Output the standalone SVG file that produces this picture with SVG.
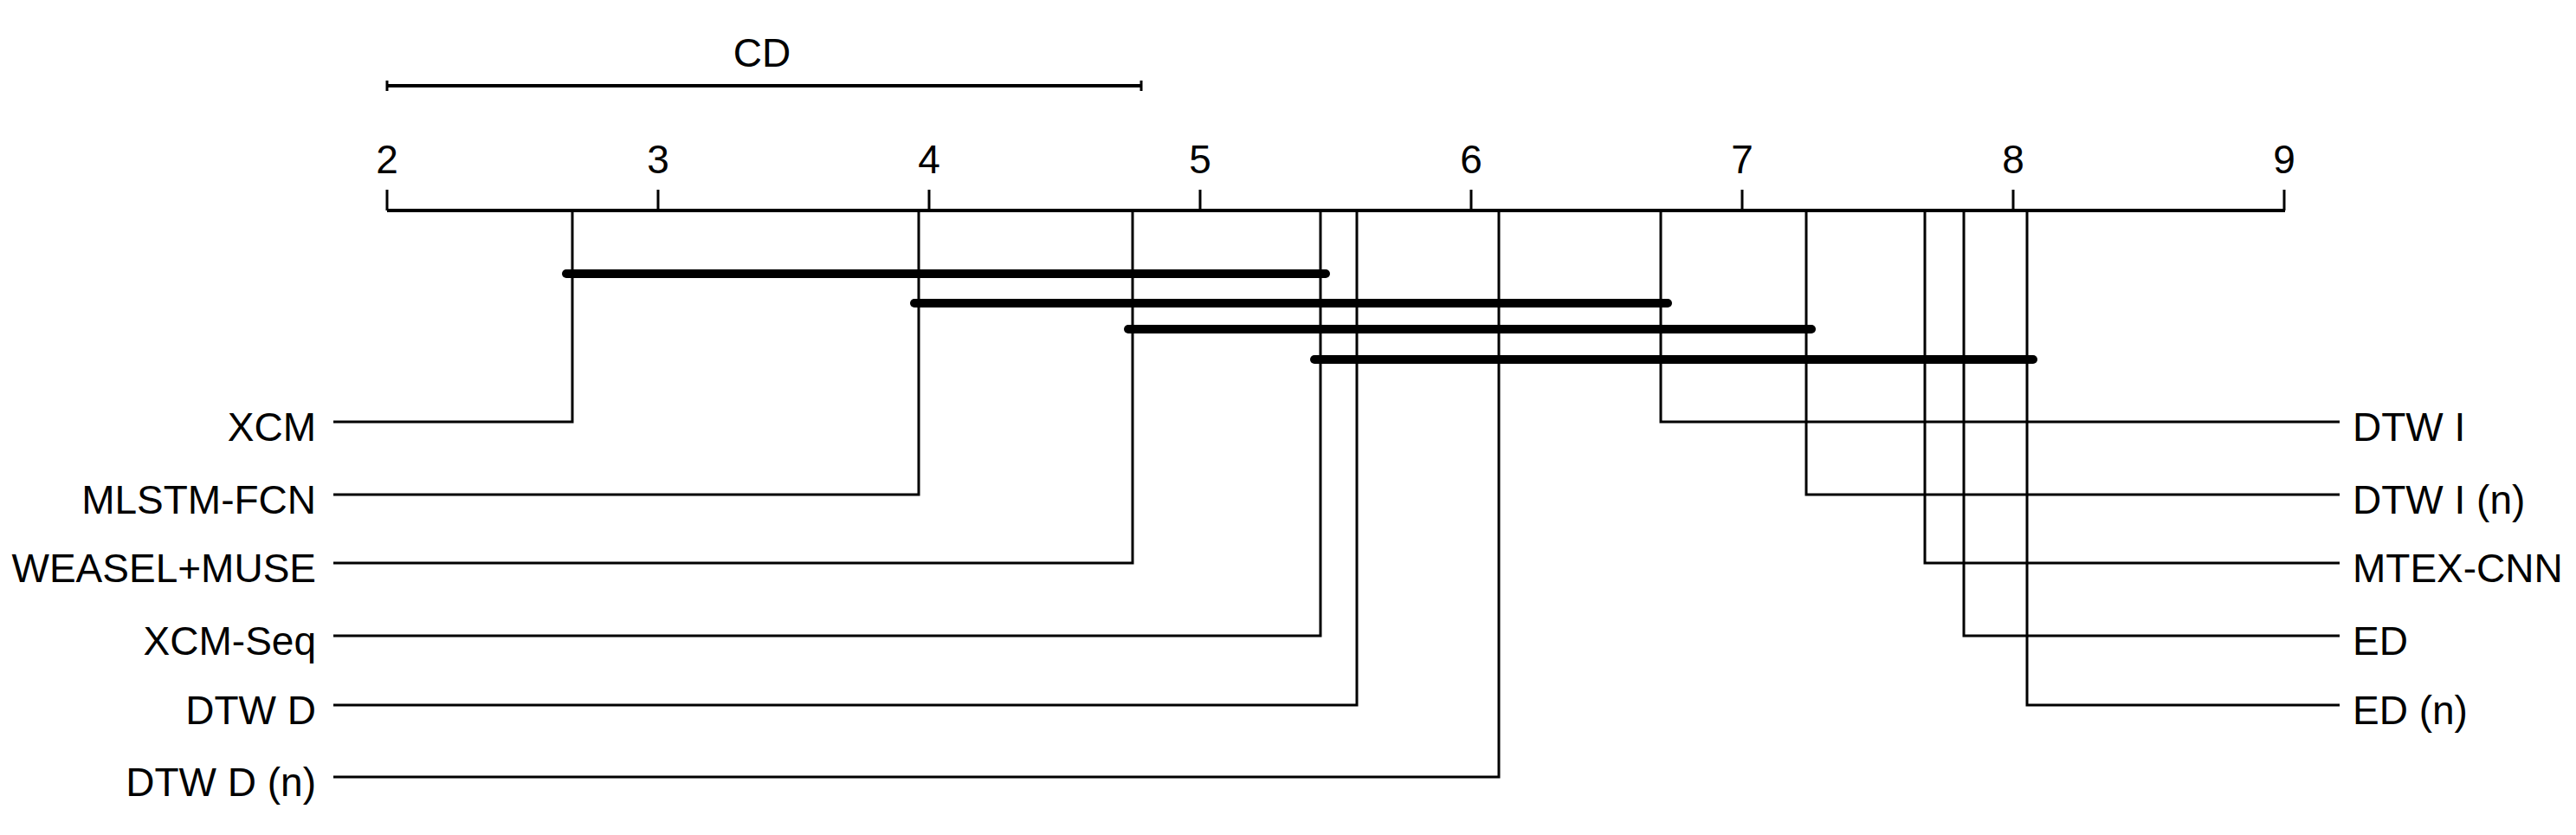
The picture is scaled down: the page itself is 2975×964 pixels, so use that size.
<svg xmlns="http://www.w3.org/2000/svg" width="2975" height="964" viewBox="0 0 2975 964">
<style>
text{font-family:"Liberation Sans",Arial,sans-serif;font-size:46px;fill:#000}
.l{text-anchor:end}.c{text-anchor:middle}
line{stroke:#000;stroke-width:3}
.ax{stroke-width:4}
.bar{stroke-width:10;stroke-linecap:round}
</style>
<rect width="2975" height="964" fill="#fff"/>
<g id="cd">
<line x1="447" y1="99" x2="1318" y2="99" class="ax"/>
<line x1="447" y1="93" x2="447" y2="105"/>
<line x1="1318" y1="93" x2="1318" y2="105"/>
<text x="880" y="77" class="c">CD</text>
</g>
<g id="axis">
<line x1="447" y1="243" x2="2639" y2="243" class="ax"/>
<line x1="447" y1="219" x2="447" y2="243"/><line x1="760" y1="219" x2="760" y2="243"/><line x1="1073" y1="219" x2="1073" y2="243"/><line x1="1386" y1="219" x2="1386" y2="243"/><line x1="1699" y1="219" x2="1699" y2="243"/><line x1="2012" y1="219" x2="2012" y2="243"/><line x1="2325" y1="219" x2="2325" y2="243"/><line x1="2638" y1="219" x2="2638" y2="243"/>
<text x="447" y="200" class="c">2</text><text x="760" y="200" class="c">3</text><text x="1073" y="200" class="c">4</text><text x="1386" y="200" class="c">5</text><text x="1699" y="200" class="c">6</text><text x="2012" y="200" class="c">7</text><text x="2325" y="200" class="c">8</text><text x="2638" y="200" class="c">9</text>
</g>
<g id="connectors">
<polyline points="661,243 661,487 385,487" fill="none" stroke="#000" stroke-width="3"/>
<polyline points="1061,243 1061,571 385,571" fill="none" stroke="#000" stroke-width="3"/>
<polyline points="1308,243 1308,650 385,650" fill="none" stroke="#000" stroke-width="3"/>
<polyline points="1525,243 1525,734 385,734" fill="none" stroke="#000" stroke-width="3"/>
<polyline points="1567,243 1567,814 385,814" fill="none" stroke="#000" stroke-width="3"/>
<polyline points="1731,243 1731,897 385,897" fill="none" stroke="#000" stroke-width="3"/>
<polyline points="1918,243 1918,487 2702,487" fill="none" stroke="#000" stroke-width="3"/>
<polyline points="2086,243 2086,571 2702,571" fill="none" stroke="#000" stroke-width="3"/>
<polyline points="2223,243 2223,650 2702,650" fill="none" stroke="#000" stroke-width="3"/>
<polyline points="2268,243 2268,734 2702,734" fill="none" stroke="#000" stroke-width="3"/>
<polyline points="2341,243 2341,814 2702,814" fill="none" stroke="#000" stroke-width="3"/>
</g>
<g id="cliques">
<line x1="654" y1="316" x2="1531" y2="316" class="bar"/>
<line x1="1056" y1="350" x2="1926" y2="350" class="bar"/>
<line x1="1303" y1="380" x2="2092" y2="380" class="bar"/>
<line x1="1518" y1="415" x2="2348" y2="415" class="bar"/>
</g>
<g id="n-XCM"><text x="365" y="509" class="l">XCM</text></g>
<g id="n-MLSTM"><text x="365" y="593" class="l">MLSTM-FCN</text></g>
<g id="n-WEASEL"><text x="365" y="672" class="l">WEASEL+MUSE</text></g>
<g id="n-XCMSeq"><text x="365" y="756" class="l">XCM-Seq</text></g>
<g id="n-DTWD"><text x="365" y="836" class="l">DTW D</text></g>
<g id="n-DTWDn"><text x="365" y="919" class="l">DTW D (n)</text></g>
<g id="n-DTWI"><text x="2717" y="509">DTW I</text></g>
<g id="n-DTWIn"><text x="2717" y="593">DTW I (n)</text></g>
<g id="n-MTEX"><text x="2717" y="672">MTEX-CNN</text></g>
<g id="n-ED"><text x="2717" y="756">ED</text></g>
<g id="n-EDn"><text x="2717" y="836">ED (n)</text></g>
</svg>
